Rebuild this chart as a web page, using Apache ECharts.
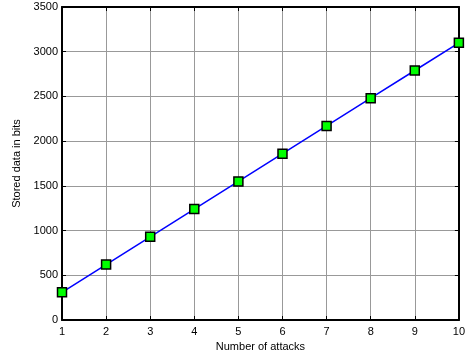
<!DOCTYPE html>
<html><head><meta charset="utf-8">
<script src="https://cdn.jsdelivr.net/npm/echarts@6/dist/echarts.min.js"></script>
<style>html,body{margin:0;padding:0;background:#fff}#c{width:468px;height:358px}</style>
</head><body><div id="c"></div>
<script>
const attacks = [1,2,3,4,5,6,7,8,9,10];
const storedBits = [310,620,930,1240,1550,1860,2170,2480,2790,3100];
const yTicks = [0,500,1000,1500,2000,2500,3000,3500];

const chart = echarts.init(document.getElementById('c'), null, {renderer:'canvas'});
const font = 'Liberation Sans, Arial, sans-serif';
const axLine = {show:true, onZero:false, lineStyle:{color:'#000', width:2}};
chart.setOption({
  animation:false,
  backgroundColor:'#fff',
  grid:{left:62, right:5, top:7, bottom:38, containLabel:false},
  xAxis:[{
    type:'value', min:1, max:10, interval:1,
    name:'Number of attacks', nameLocation:'middle', nameGap:21,
    nameTextStyle:{color:'#000', fontSize:11, fontFamily:font},
    axisLine:axLine,
    axisTick:{show:true, inside:true, length:4, lineStyle:{color:'#000'}},
    axisLabel:{color:'#000', fontSize:11, fontFamily:font, margin:6, formatter:v=>String(v)},
    splitLine:{show:true, lineStyle:{color:'#999', width:1}}
  },{
    type:'value', position:'top', min:1, max:10, interval:1,
    axisLine:axLine,
    axisTick:{show:true, inside:true, length:4, lineStyle:{color:'#000'}},
    axisLabel:{show:false}, splitLine:{show:false}
  }],
  yAxis:[{
    type:'value', min:0, max:3500, interval:500,
    name:'Stored data in bits', nameLocation:'middle', nameGap:38, nameRotate:90,
    nameTextStyle:{color:'#000', fontSize:11, fontFamily:font},
    axisLine:axLine,
    axisTick:{show:true, inside:true, length:4, lineStyle:{color:'#000'}},
    axisLabel:{color:'#000', fontSize:11, fontFamily:font, margin:4, formatter:v=>String(v)},
    splitLine:{show:true, lineStyle:{color:'#999', width:1}}
  },{
    type:'value', position:'right', min:0, max:3500, interval:500,
    axisLine:axLine,
    axisTick:{show:true, inside:true, length:4, lineStyle:{color:'#000'}},
    axisLabel:{show:false}, splitLine:{show:false}
  }],
  series:[{
    type:'line',
    data: attacks.map((a,i)=>[a, storedBits[i]]),
    lineStyle:{color:'#0000ff', width:1.5},
    symbol:'rect', symbolSize:9,
    itemStyle:{color:'#00ff00', borderColor:'#000', borderWidth:1.5},
    clip:false, z:5
  }]
});
</script></body></html>
